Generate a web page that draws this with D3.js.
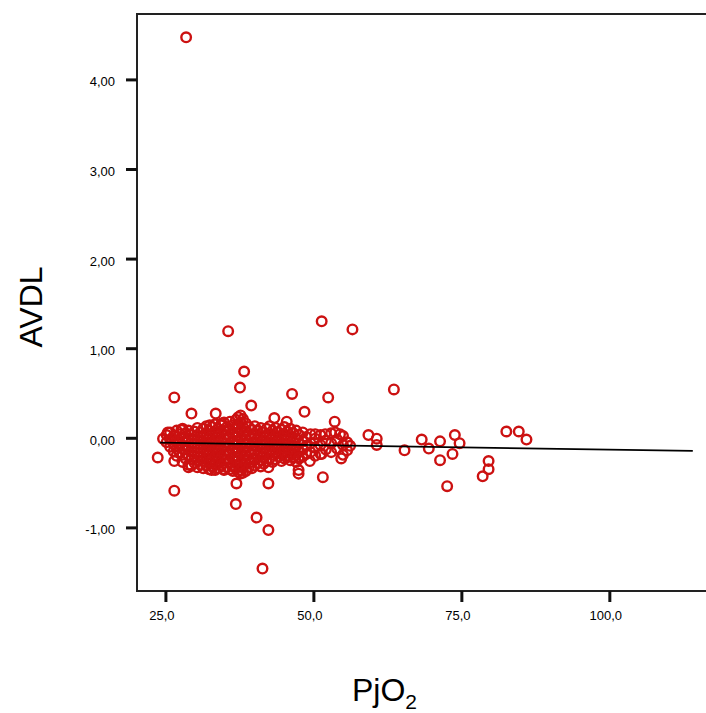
<!DOCTYPE html>
<html><head><meta charset="utf-8">
<script src="https://cdn.jsdelivr.net/npm/d3@7"></script>
<style>html,body{margin:0;padding:0;background:#fff;}</style>
</head><body>
<svg id="chart" width="706" height="713"></svg>
<script>
// ---- data ----
const xTicks = [25, 50, 75, 100];
const xTickLabels = ["25,0", "50,0", "75,0", "100,0"];
const yTicks = [-1, 0, 1, 2, 3, 4];
const yTickLabels = ["-1,00", "0,00", "1,00", "2,00", "3,00", "4,00"];
const xDomain = [20.2, 116.5];
const yDomain = [-1.71, 4.73];
const fitPjo2 = [24.1, 114.1];
const fitAvdl = [-0.055, -0.147];

// isolated observations [PjO2, AVDL]
const spreadSamples = [
  [28.5, 4.47], [35.6, 1.19], [51.4, 1.30], [56.6, 1.21], [38.3, 0.74], [37.6, 0.56],
  [63.6, 0.54], [26.5, 0.45], [46.4, 0.49], [52.5, 0.45], [39.5, 0.36], [29.4, 0.27],
  [33.5, 0.27], [48.5, 0.29], [43.4, 0.22], [45.5, 0.18], [53.6, 0.18], [24.6, -0.01],
  [23.7, -0.22], [26.5, -0.26], [26.5, -0.59], [37.0, -0.51], [36.9, -0.74], [42.4, -0.33],
  [42.4, -0.51], [40.4, -0.89], [42.4, -1.03], [41.4, -1.46], [47.5, -0.36], [47.5, -0.40],
  [51.6, -0.44], [49.4, -0.26], [54.7, -0.23], [55.7, -0.14], [56.2, -0.09], [55.7, -0.05],
  [54.5, 0.04], [52.0, 0.04], [50.3, 0.04], [59.3, 0.03], [60.7, -0.01], [60.7, -0.08],
  [65.4, -0.14], [68.3, -0.02], [69.5, -0.12], [71.4, -0.04], [71.4, -0.25], [72.6, -0.54],
  [73.9, 0.03], [74.7, -0.06], [73.5, -0.18], [79.6, -0.26], [79.6, -0.35], [78.6, -0.43],
  [82.6, 0.07], [84.7, 0.07], [86.0, -0.02], [28.9, -0.33], [34.8, -0.35], [32.8, -0.36],
  [25.4, 0.06], [27.7, 0.09], [32.5, 0.14], [34.5, 0.16], [53.7, 0.06], [51.4, -0.18],
  [47.5, -0.22], [45.5, -0.22]
];

// dense core: [PjO2, [AVDL values at that PjO2]]
const coreColumns = [
  [25.2, [0.03, -0.05]],
  [25.8, [0.06, -0.02, -0.10]],
  [26.4, [0.02, -0.07, -0.15]],
  [26.9, [0.08, -0.03, -0.12, -0.20]],
  [27.4, [0.04, -0.06, -0.16]],
  [27.9, [0.10, 0.00, -0.09, -0.19, -0.27]],
  [28.4, [0.05, -0.04, -0.13, -0.23]],
  [28.9, [0.08, -0.01, -0.10, -0.19, -0.30]],
  [29.4, [0.03, -0.06, -0.15, -0.24, -0.31]],
  [29.9, [0.07, -0.02, -0.11, -0.20, -0.28]],
  [30.4, [0.11, 0.02, -0.07, -0.16, -0.25, -0.33]],
  [30.9, [0.06, -0.03, -0.12, -0.21, -0.30]],
  [31.4, [0.10, 0.01, -0.08, -0.17, -0.26, -0.34]],
  [31.9, [0.13, 0.04, -0.05, -0.14, -0.23, -0.31]],
  [32.4, [0.08, -0.01, -0.10, -0.19, -0.28, -0.35]],
  [32.9, [0.12, 0.03, -0.06, -0.15, -0.24, -0.32]],
  [33.4, [0.15, 0.06, -0.03, -0.12, -0.21, -0.30, -0.36]],
  [33.9, [0.10, 0.01, -0.08, -0.17, -0.26, -0.34]],
  [34.4, [0.14, 0.05, -0.04, -0.13, -0.22, -0.31]],
  [34.9, [0.17, 0.08, -0.01, -0.10, -0.19, -0.28, -0.36]],
  [35.4, [0.12, 0.03, -0.06, -0.15, -0.24, -0.33]],
  [35.9, [0.18, 0.09, 0.00, -0.09, -0.18, -0.27, -0.35]],
  [36.4, [0.14, 0.05, -0.04, -0.13, -0.22, -0.31, -0.37]],
  [36.9, [0.20, 0.11, 0.02, -0.07, -0.16, -0.25, -0.34]],
  [37.3, [0.23, 0.15, 0.06, -0.03, -0.12, -0.21, -0.30, -0.38]],
  [37.7, [0.25, 0.17, 0.08, -0.01, -0.10, -0.19, -0.28, -0.36, -0.40]],
  [38.1, [0.21, 0.12, 0.03, -0.06, -0.15, -0.24, -0.33, -0.39]],
  [38.6, [0.16, 0.07, -0.02, -0.11, -0.20, -0.29, -0.37]],
  [39.1, [0.12, 0.03, -0.06, -0.15, -0.24, -0.33]],
  [39.6, [0.09, 0.00, -0.09, -0.18, -0.27, -0.34]],
  [40.1, [0.13, 0.04, -0.05, -0.14, -0.23, -0.31]],
  [40.6, [0.08, -0.01, -0.10, -0.19, -0.28]],
  [41.1, [0.11, 0.02, -0.07, -0.16, -0.25, -0.32]],
  [41.6, [0.06, -0.03, -0.12, -0.21, -0.29]],
  [42.1, [0.10, 0.01, -0.08, -0.17, -0.26]],
  [42.6, [0.13, 0.04, -0.05, -0.14, -0.23]],
  [43.1, [0.08, -0.01, -0.10, -0.19, -0.27]],
  [43.6, [0.11, 0.02, -0.07, -0.16, -0.24]],
  [44.1, [0.06, -0.03, -0.12, -0.21]],
  [44.6, [0.09, 0.00, -0.09, -0.18, -0.26]],
  [45.1, [0.12, 0.03, -0.06, -0.15, -0.23]],
  [45.6, [0.07, -0.02, -0.11, -0.20]],
  [46.1, [0.10, 0.01, -0.08, -0.17, -0.25]],
  [46.6, [0.05, -0.04, -0.13, -0.22]],
  [47.1, [0.08, -0.01, -0.10, -0.19, -0.27]],
  [47.6, [0.03, -0.06, -0.15, -0.23]],
  [48.2, [0.06, -0.04, -0.13, -0.21]],
  [48.8, [0.01, -0.09, -0.18]],
  [49.5, [0.04, -0.06, -0.16]],
  [50.3, [-0.01, -0.11, -0.20]],
  [51.2, [0.03, -0.08, -0.18]],
  [52.1, [-0.03, -0.13]],
  [53.0, [0.05, -0.06, -0.16]],
  [54.0, [-0.02, -0.12]],
  [55.0, [0.02, -0.08, -0.19]]
];

// ---- drawing ----
const svg = d3.select("#chart");
const x = d3.scaleLinear().domain(xDomain).range([137, 707]);
const y = d3.scaleLinear().domain(yDomain).range([591, 14]);

const corePoints = coreColumns.flatMap(([px, vals]) => vals.map(v => [px, v]));
const allPoints = corePoints.concat(spreadSamples);

// frame (right side extends beyond the picture)
svg.append("path")
  .attr("d", `M${x(xDomain[1])},${y(yDomain[1])}H${x(xDomain[0])}V${y(yDomain[0])}H${x(xDomain[1])}`)
  .attr("fill", "none").attr("stroke", "#222").attr("stroke-width", 2);

const labelFont = "'Liberation Sans', Arial, sans-serif";

// axes
const yAxis = d3.axisLeft(y).tickValues(yTicks)
  .tickFormat((d, i) => yTickLabels[i]).tickSize(11).tickPadding(11);
const gy = svg.append("g").attr("transform", `translate(${x(xDomain[0])},0)`).call(yAxis);
gy.select(".domain").remove();
gy.selectAll(".tick line").attr("stroke", "#111").attr("stroke-width", 3);
gy.selectAll(".tick text").attr("fill", "#000")
  .style("font-family", labelFont).style("font-size", "13px")
  .attr("dy", "0.5em");

const xAxis = d3.axisBottom(x).tickValues(xTicks)
  .tickFormat((d, i) => xTickLabels[i]).tickSize(11).tickPadding(9);
const gx = svg.append("g").attr("transform", `translate(0,${y(yDomain[0])})`).call(xAxis);
gx.select(".domain").remove();
gx.selectAll(".tick line").attr("stroke", "#111").attr("stroke-width", 3);
gx.selectAll(".tick text").attr("fill", "#000")
  .style("font-family", labelFont).style("font-size", "13px")
  .attr("dx", -4);

// points
svg.append("g").selectAll("circle").data(allPoints).join("circle")
  .attr("cx", d => x(d[0])).attr("cy", d => y(d[1])).attr("r", 4.8)
  .attr("fill", "none").attr("stroke", "#cc1111").attr("stroke-width", 2.4);

// fit line
const fit = fitPjo2.map((v, i) => [v, fitAvdl[i]]);
svg.append("path").datum(fit)
  .attr("d", d3.line().x(d => x(d[0])).y(d => y(d[1])))
  .attr("fill", "none").attr("stroke", "#000").attr("stroke-width", 1.8);

// axis titles
svg.append("text").attr("transform", "translate(42,307) rotate(-90)")
  .attr("text-anchor", "middle").attr("fill", "#000")
  .style("font-family", labelFont).style("font-size", "32px")
  .text("AVDL");
const xt = svg.append("text").attr("x", 352).attr("y", 701).attr("fill", "#000")
  .style("font-family", labelFont).style("font-size", "32px");
xt.append("tspan").text("PjO");
xt.append("tspan").attr("dy", 8).style("font-size", "21px").text("2");
</script>
</body></html>
